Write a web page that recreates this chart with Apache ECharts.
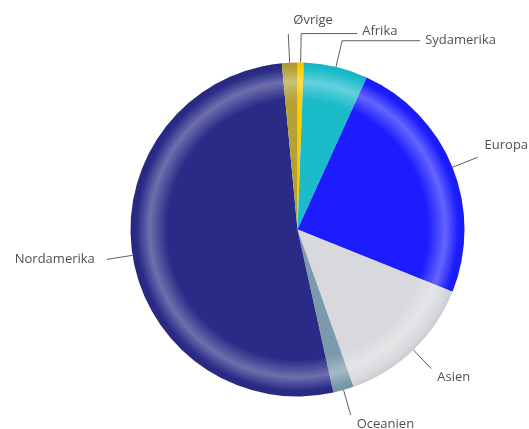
<!DOCTYPE html>
<html>
<head>
<meta charset="utf-8">
<script src="https://cdn.jsdelivr.net/npm/echarts@6/dist/echarts.min.js"></script>
<style>html,body{margin:0;padding:0;background:#fff}#c{width:529px;height:429px}</style>
</head>
<body>
<div id="c"></div>
<script>
// ---- data ----
const categories = ['Afrika', 'Sydamerika', 'Europa', 'Asien', 'Oceanien', 'Nordamerika', 'Øvrige'];
const values = [0.6, 6.2, 24.3, 13.5, 2.0, 52.0, 1.5];
const colors = ['#ffcc00', '#1bbcca', '#1c1cff', '#d8d9dc', '#7b9aae', '#2a2b87', '#b4a236'];

// ---- layout / style ----
const CX = 297.5, CY = 229.5, R = 167;
const labelCfg = {
  'Øvrige':      {len: 29, len2: 0,  dx: 5,   dy: -13, align: 'left'},
  'Afrika':      {len: 29, len2: 56, dx: 5,   dy: -2,  align: 'left'},
  'Sydamerika':  {len: 27, len2: 78, dx: 5,   dy: 0,   align: 'left'},
  'Europa':      {len: 27, len2: 0,  dx: 7,   dy: -12, align: 'left'},
  'Asien':       {len: 26, len2: 0,  dx: 6,   dy: 9,   align: 'left'},
  'Oceanien':    {len: 26, len2: 0,  dx: 6,   dy: 9,   align: 'left'},
  'Nordamerika': {len: 26, len2: 0,  dx: -12, dy: 0,   align: 'right'}
};

function mix(hex, t) {
  const n = parseInt(hex.slice(1), 16);
  let r = (n >> 16) & 255, g = (n >> 8) & 255, b = n & 255;
  r = Math.round(r + (255 - r) * t); g = Math.round(g + (255 - g) * t); b = Math.round(b + (255 - b) * t);
  return 'rgb(' + r + ',' + g + ',' + b + ')';
}
function shade(hex, t) {
  const n = parseInt(hex.slice(1), 16);
  let r = (n >> 16) & 255, g = (n >> 8) & 255, b = n & 255;
  return 'rgb(' + Math.round(r * t) + ',' + Math.round(g * t) + ',' + Math.round(b * t) + ')';
}
function ring(base) {
  return {
    type: 'radial', x: CX, y: CY, r: R, global: true,
    colorStops: [
      {offset: 0, color: base},
      {offset: 0.78, color: base},
      {offset: 0.885, color: mix(base, 0.32)},
      {offset: 0.965, color: base},
      {offset: 1, color: shade(base, 0.94)}
    ]
  };
}

const total = values.reduce((a, b) => a + b, 0);
const midAngles = [];
(function () {
  let acc = 0;
  values.forEach(v => { midAngles.push((acc + v / 2) / total * 2 * Math.PI); acc += v; });
})();

const data = categories.map((c, i) => ({
  name: c, value: values[i],
  itemStyle: {color: ring(colors[i])}
}));

const chart = echarts.init(document.getElementById('c'), null, {renderer: 'canvas'});
chart.setOption({
  animation: false,
  series: [{
    type: 'pie',
    center: [CX, CY],
    radius: [0, R],
    startAngle: 90,
    clockwise: true,
    avoidLabelOverlap: false,
    data: data,
    itemStyle: {borderWidth: 0},
    label: {
      show: true, position: 'outside',
      fontFamily: 'Open Sans', fontSize: 13, color: '#505050'
    },
    labelLine: {show: true, length: 26, length2: 0, lineStyle: {color: '#606060', width: 1}},
    labelLayout: function (p) {
      const i = p.dataIndex;
      const cfg = labelCfg[categories[i]];
      const a = midAngles[i];
      const dx = Math.sin(a), dy = -Math.cos(a);
      const p0 = [CX + R * dx, CY + R * dy];
      const p1 = [p0[0] + cfg.len * dx, p0[1] + cfg.len * dy];
      const side = cfg.align === 'left' ? 1 : -1;
      const p2 = [p1[0] + side * cfg.len2, p1[1]];
      return {
        x: p2[0] + cfg.dx, y: p2[1] + cfg.dy,
        align: cfg.align, verticalAlign: 'middle',
        labelLinePoints: [p0, p1, p2]
      };
    }
  }]
});
</script>
</body>
</html>
